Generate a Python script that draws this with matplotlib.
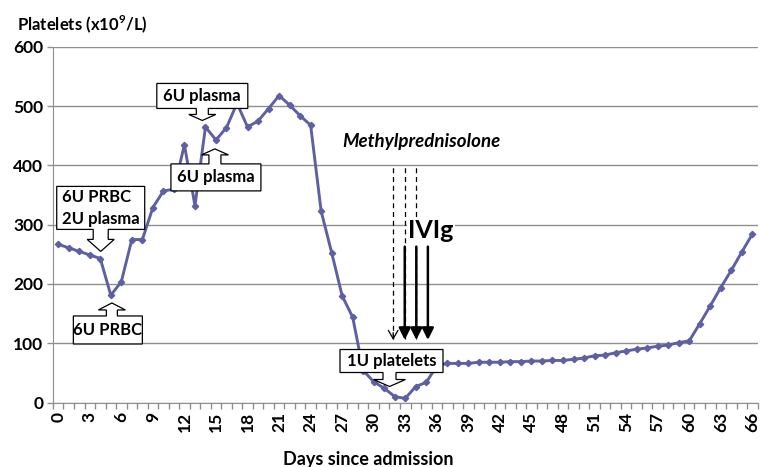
import numpy as np
import matplotlib
matplotlib.use("Agg")
import matplotlib.pyplot as plt
import matplotlib.transforms as mtransforms
from matplotlib.patches import Polygon

plt.rcParams['font.family'] = ['Lato', 'DejaVu Sans']
plt.rcParams['mathtext.fontset'] = 'custom'
plt.rcParams['mathtext.rm'] = 'Lato:bold'
plt.rcParams['mathtext.bf'] = 'Lato:bold'

# data
days = list(range(0, 67))
platelets = [267, 261, 255, 249, 243, 181, 204, 275, 275, 329,
             357, 360, 435, 332, 465, 443, 464, 505, 465, 475,
             496, 518, 502, 484, 468, 323, 253, 180, 144, 54,
             35, 24, 10, 7, 27, 34, 62, 66, 66, 66,
             68, 68, 68, 69, 69, 70, 70, 71, 71, 73,
             75, 79, 80, 84, 87, 90, 92, 95, 97, 101,
             104, 133, 163, 194, 223, 254, 284]
tick_days = list(range(0, 67, 3))
y_ticks = [0, 100, 200, 300, 400, 500, 600]

# treatment markers (days)
methyl_days = [31.85, 32.95, 34.05]
ivig_days = [32.95, 34.05, 35.15]

line_color = '#5F5FA3'
grid_color = '#8f8f8f'

fig = plt.figure(figsize=(7.6, 4.67), dpi=100)
ax = fig.add_axes([0.0697, 0.1381, 0.9271, 0.7613])

ax.plot(days, platelets, color=line_color, lw=2.1, marker='D', ms=3.2,
        mec=line_color, mfc=line_color, zorder=3)

ax.set_xlim(-0.5, 66.5)
ax.set_ylim(0, 600)
ax.set_yticks(y_ticks)
ax.set_xticks(tick_days)
ax.set_xticks(np.arange(-0.5, 67, 1), minor=True)
ax.yaxis.grid(True, color=grid_color, lw=1)
ax.set_axisbelow(True)
ax.tick_params(axis='x', which='major', length=0, pad=7, labelrotation=90, labelsize=12.5)
ax.tick_params(axis='x', which='minor', length=4, color=grid_color, width=1)
ax.tick_params(axis='y', length=4, color=grid_color, width=1, labelsize=12.5, pad=3)
plt.setp(ax.get_xticklabels() + ax.get_yticklabels(), fontweight='bold')
for side in ['top', 'right']:
    ax.spines[side].set_visible(False)
for side in ['left', 'bottom']:
    ax.spines[side].set_color(grid_color)

fig.text(0.022, 0.949, r'Platelets (x10$^{9}$/L)', fontsize=12, fontweight='bold', va='center')
fig.text(0.484, 0.017, 'Days since admission', fontsize=13, fontweight='bold',
         ha='center', va='center')


def callout(tip, label, box_w, box_h, arrow_len, shaft_w, head_w, head_len,
            dx=0, up=False, ha='center'):
    # box with a block arrow pointing at tip; sizes in pixels
    s = -1 if up else 1
    L, H = arrow_len, box_h
    left, right = dx - box_w / 2, dx + box_w / 2
    verts = [(left, L), (left, L + H), (right, L + H), (right, L),
             (shaft_w / 2, L), (shaft_w / 2, head_len), (head_w / 2, head_len), (0, 0),
             (-head_w / 2, head_len), (-shaft_w / 2, head_len), (-shaft_w / 2, L)]
    verts = [(x / fig.dpi, s * y / fig.dpi) for x, y in verts]
    trans = fig.dpi_scale_trans + mtransforms.ScaledTranslation(tip[0], tip[1], ax.transData)
    ax.add_patch(Polygon(verts, closed=True, fc='white', ec='black', lw=0.9,
                         transform=trans, zorder=6, clip_on=False))
    tx = dx if ha == 'center' else left + 5
    ax.text(tx / fig.dpi, s * (L + H / 2) / fig.dpi, label, transform=trans,
            ha=ha, va='center', fontsize=12, fontweight='bold', zorder=7,
            linespacing=1.4)


callout((4.04, 255), '6U PRBC\n2U plasma', 88, 43, 22, 15, 27, 12, ha='left')
callout((5.1, 168), '6U PRBC', 69, 28, 13, 11, 27, 7, dx=-4, up=True)
callout((13.7, 476), '6U plasma', 91, 25, 12, 12, 27, 6)
callout((14.9, 428), '6U plasma', 90, 27, 15, 12, 27, 6, dx=1, up=True)
callout((31.5, 27), '1U platelets', 103, 23, 14, 13, 32, 7, dx=2)

# methylprednisolone (dashed) and IVIg (solid) arrows
ax.text(34.55, 440, 'Methylprednisolone', fontsize=13.5, fontweight='bold',
        style='italic', ha='center', va='center')
for i, x in enumerate(methyl_days):
    ax.vlines(x, 108, 401, colors='black', linestyles=(0, (4, 3)), lw=0.9,
              zorder=2 if i == 2 else 4)
ax.annotate('', xy=(methyl_days[0], 105.6), xytext=(methyl_days[0], 118),
            arrowprops=dict(arrowstyle='->,head_length=0.6,head_width=0.35',
                            lw=0.9, color='black', shrinkA=0, shrinkB=0), zorder=4)
ax.text(35.45, 290, 'IVIg', fontsize=18, fontweight='bold', ha='center', va='center',
        zorder=3, bbox=dict(fc='white', ec='none', pad=1))
for x in ivig_days:
    ax.annotate('', xy=(x, 105.6), xytext=(x, 263),
                arrowprops=dict(arrowstyle='-|>,head_length=0.7,head_width=0.35',
                                lw=1.8, color='black', shrinkA=0, shrinkB=0), zorder=5)

fig.savefig('out.png', dpi=100)
